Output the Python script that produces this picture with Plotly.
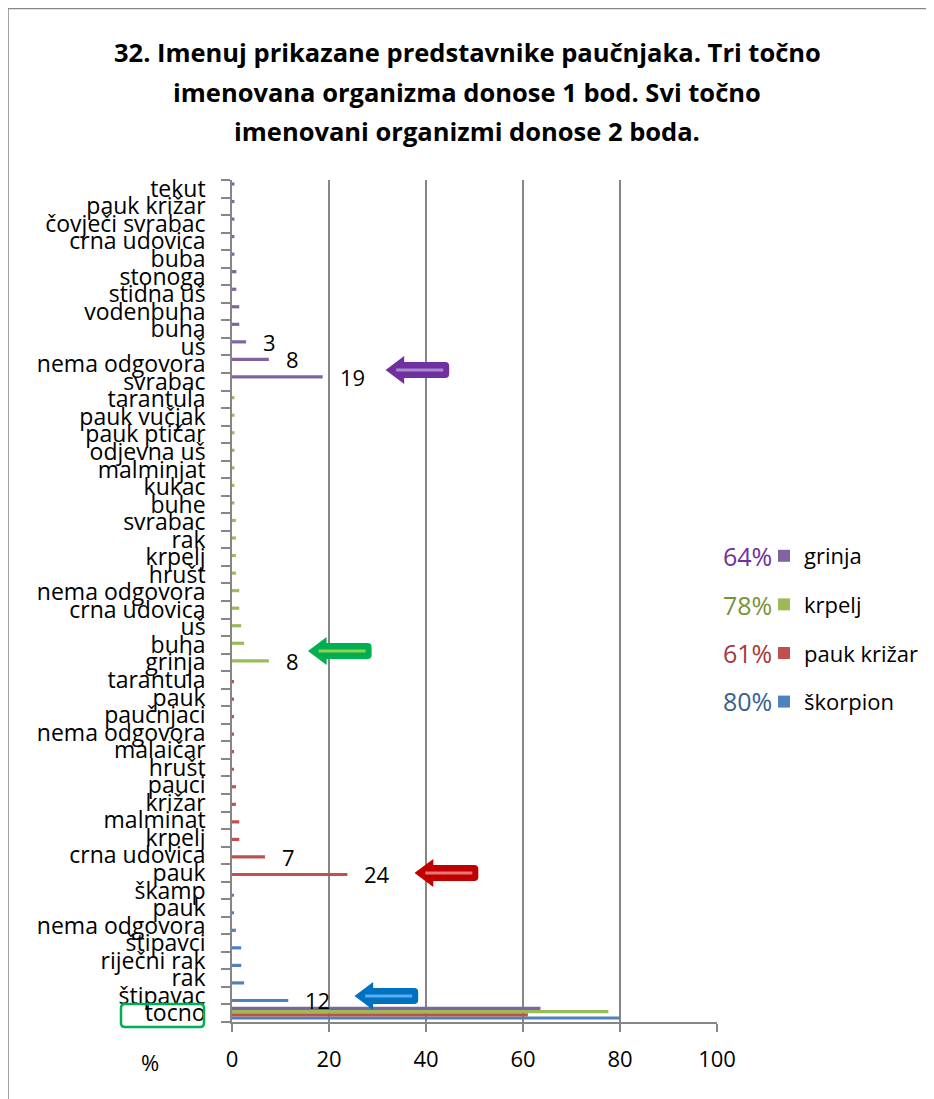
import plotly.graph_objects as go

# ---------------- data ----------------
series_names = ["škorpion", "pauk križar", "krpelj", "grinja"]
tocno_values = [80.0, 61.0, 77.6, 63.6]           # "tocno" row, one per series
percent_labels = ["80%", "61%", "78%", "64%"]

skorpion_cats = ["štipavac", "rak", "riječni rak", "štipavci", "nema odgovora", "pauk", "škamp"]
skorpion_vals = [11.6, 2.5, 1.9, 1.9, 0.8, 0.4, 0.4]

pauk_cats = ["pauk", "crna udovica", "krpelj", "malminat", "križar", "pauci", "hrušt",
             "malaičar", "nema odgovora", "paučnjaci", "pauk", "tarantula"]
pauk_vals = [23.8, 6.8, 1.5, 1.5, 0.8, 0.8, 0.4, 0.4, 0.4, 0.4, 0.4, 0.4]

krpelj_cats = ["grinja", "buha", "uš", "crna udovica", "nema odgovora", "hrušt", "krpelj", "rak",
               "svrabac", "buhe", "kukac", "malminjat", "odjevna uš", "pauk ptičar", "pauk vučjak", "tarantula"]
krpelj_vals = [7.6, 2.5, 1.9, 1.5, 1.5, 0.8, 0.8, 0.8, 0.8, 0.5, 0.5, 0.5, 0.5, 0.5, 0.5, 0.5]

grinja_cats = ["svrabac", "nema odgovora", "uš", "buha", "vodenbuha", "stidna uš", "stonoga", "buba",
               "crna udovica", "čovječi svrabac", "pauk križar", "tekut"]
grinja_vals = [18.7, 7.6, 2.9, 1.5, 1.5, 0.9, 0.9, 0.5, 0.5, 0.5, 0.5, 0.5]

labeled = [["štipavac"], ["pauk", "crna udovica"], ["grinja"], ["svrabac", "nema odgovora", "uš"]]

x_ticks = [0, 20, 40, 60, 80, 100]

title_lines = ["32. Imenuj prikazane predstavnike paučnjaka. Tri točno",
               "imenovana organizma donose 1 bod. Svi točno",
               "imenovani organizmi donose 2 boda."]

# ---------------- style ----------------
series_colors = ["#4F81BD", "#C0504D", "#9BBB59", "#8064A2"]
percent_colors = ["#376092", "#A33B38", "#77933C", "#7030A0"]
arrow_colors = [("#0070C0", "#5BB0EE"), ("#C00000", "#E87575"), ("#00B050", "#92D050"), ("#7030A0", "#A98BD0")]
arrow_tips = [(25.6, 0.98), (38.0, 8.0), (16.0, 20.65), (32.0, 36.67)]  # decoration anchors
FONT = "Open Sans"
GRID = "#868686"

# page geometry (the html body adds an 8px offset)
OFF = 8
W, H = 934 - OFF, 1099 - OFF
PLOT_L, PLOT_R, PLOT_T, PLOT_B = 232, 717, 180, 1022   # page pixels
L, T = PLOT_L - OFF, PLOT_T - OFF
PW, PH = PLOT_R - PLOT_L, PLOT_B - PLOT_T
R, B = W - L - PW, H - T - PH


def px(xp):
    return (xp - PLOT_L) / PW


def py(yp):
    return (PLOT_B - yp) / PH


block_cats = [skorpion_cats, pauk_cats, krpelj_cats, grinja_cats]
block_vals = [skorpion_vals, pauk_vals, krpelj_vals, grinja_vals]
categories = ["tocno"] + [c for blk in block_cats for c in blk]
n = len(categories)
positions = list(range(n))

BARGAP = 1.5 / 5.5
slot = (1 - BARGAP) / 4

fig = go.Figure()
annotations = []
start = 1
for k in range(4):
    xs = [None] * n
    xs[0] = tocno_values[k]
    for j, v in enumerate(block_vals[k]):
        xs[start + j] = v
    fig.add_trace(go.Bar(
        x=xs, y=positions, orientation="h", name=series_names[k],
        marker=dict(color=series_colors[k], line=dict(width=0)),
        legendgroup=series_names[k], legendrank=4 - k,
    ))
    for name in labeled[k]:
        j = block_cats[k].index(name)
        v = block_vals[k][j]
        annotations.append(dict(
            x=v, y=start + j + (k - 1.5) * slot, xref="x", yref="y",
            text=f"{v:.0f}", showarrow=False, xanchor="left", yanchor="middle", xshift=15,
            font=dict(family=FONT, size=22, color="#000000"),
        ))
    start += len(block_cats[k])

# title lines
for yl, line in zip([52, 92, 131], title_lines):
    annotations.append(dict(
        x=px(467), y=py(yl), xref="paper", yref="paper", text=f"<b>{line}</b>",
        showarrow=False, xanchor="center", yanchor="middle",
        font=dict(family=FONT, size=25.5, color="#000000"),
    ))

# "%" label
annotations.append(dict(x=px(150), y=py(1062), xref="paper", yref="paper", text="%",
                        showarrow=False, xanchor="center", yanchor="middle",
                        font=dict(family=FONT, size=22, color="#000000")))

# percentages beside legend
for yl, txt, col in zip([701, 653, 605, 556], percent_labels, percent_colors):
    annotations.append(dict(x=px(774), y=py(yl), xref="paper", yref="paper", text=txt,
                            showarrow=False, xanchor="right", yanchor="middle",
                            font=dict(family=FONT, size=25, color=col)))

shapes = []
# outer chart border
shapes.append(dict(type="rect", xref="paper", yref="paper",
                   x0=px(8), x1=px(930), y0=py(1110), y1=py(8.5),
                   line=dict(color=GRID, width=1.5), fillcolor="rgba(0,0,0,0)", layer="below"))
# arrows
arrow_path = "M0,0 L16,12 L16,7 L58,7 Q61,7 61,4 L61,-4 Q61,-7 58,-7 L16,-7 L16,-12 Z"
for (ax, ay), (c_out, c_in) in zip(arrow_tips, arrow_colors):
    shapes.append(dict(type="path", xref="x", yref="y", xsizemode="pixel", ysizemode="pixel",
                       xanchor=ax, yanchor=ay, path=arrow_path,
                       fillcolor=c_out, line=dict(color=c_out, width=2), layer="above"))
    shapes.append(dict(type="line", xref="x", yref="y", xsizemode="pixel", ysizemode="pixel",
                       xanchor=ax, yanchor=ay, x0=9, x1=56, y0=0, y1=0,
                       line=dict(color=c_in, width=3), layer="above"))
# green rounded box around "tocno"
box_path = ("M-107,11.5 L-32,11.5 Q-28,11.5 -28,7.5 L-28,-7.5 Q-28,-11.5 -32,-11.5 L-107,-11.5 "
            "Q-111,-11.5 -111,-7.5 L-111,7.5 Q-111,11.5 -107,11.5 Z")
shapes.append(dict(type="path", xref="paper", yref="paper", xsizemode="pixel", ysizemode="pixel",
                   xanchor=0, yanchor=py(1015.5), path=box_path,
                   line=dict(color="#00B050", width=2.5), fillcolor="rgba(0,0,0,0)"))

fig.update_layout(
    width=W, height=H,
    margin=dict(l=L, r=R, t=T, b=B, pad=0, autoexpand=False),
    paper_bgcolor="white", plot_bgcolor="white",
    barmode="group", bargap=BARGAP, bargroupgap=0,
    font=dict(family=FONT, size=22, color="#000000"),
    showlegend=True,
    legend=dict(x=px(764), y=py(535), xanchor="left", yanchor="top",
                traceorder="grouped", tracegroupgap=17,
                font=dict(family=FONT, size=22, color="#000000"),
                itemwidth=30, bgcolor="rgba(0,0,0,0)"),
    annotations=annotations,
    shapes=shapes,
    xaxis=dict(range=[0, 100], tickvals=x_ticks, ticktext=[str(v) for v in x_ticks],
               showgrid=True, gridcolor=GRID, gridwidth=1.5, zeroline=False,
               showline=True, linecolor=GRID, linewidth=1.5,
               ticks="outside", ticklen=8, tickcolor=GRID, tickwidth=1.5,
               ticklabelstandoff=9, tickfont=dict(family=FONT, size=22)),
    yaxis=dict(range=[-0.5, n - 0.5], tickmode="array", tickvals=positions, ticktext=categories,
               showgrid=False, zeroline=False, showline=True, linecolor=GRID, linewidth=1.5,
               ticks="", ticklabelstandoff=20,
               minor=dict(ticks="outside", ticklen=9, tickcolor=GRID, tickwidth=1.5,
                          tickmode="linear", tick0=0.5, dtick=1, showgrid=False),
               tickfont=dict(family=FONT, size=23)),
)

fig.write_html("out.html")
